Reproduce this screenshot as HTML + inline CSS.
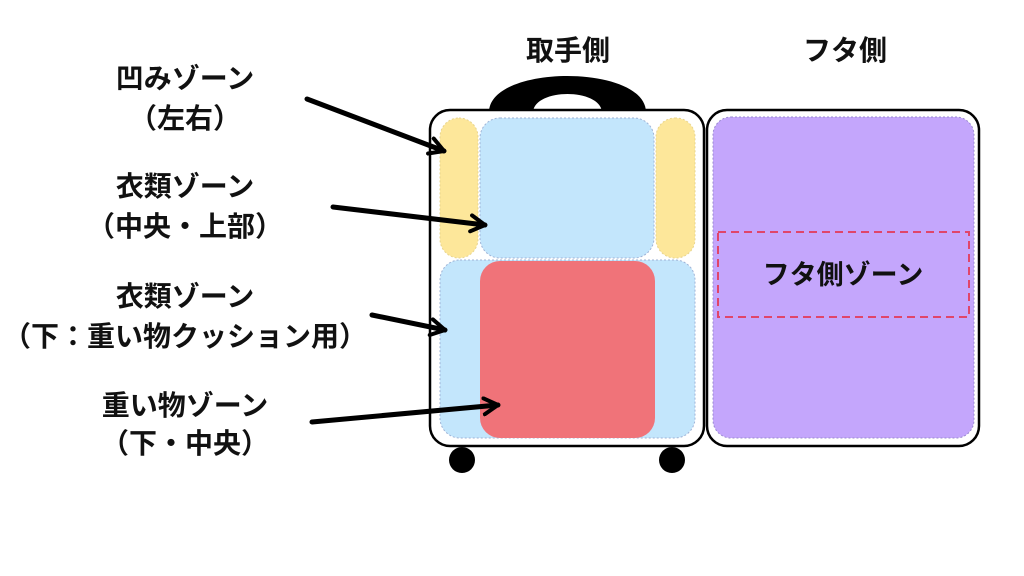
<!DOCTYPE html>
<html><head><meta charset="utf-8"><style>
body{margin:0;width:1024px;height:576px;background:#fff;overflow:hidden}
svg{display:block}
text{font-family:"Liberation Sans","Noto Sans CJK JP",sans-serif;font-weight:bold;font-size:28px;fill:#111;text-anchor:middle}
</style></head><body>
<svg width="1024" height="576" viewBox="0 0 1024 576">
<defs><marker id="a" viewBox="0 0 10 10" refX="8" refY="5" markerWidth="4" markerHeight="4" orient="auto" markerUnits="strokeWidth"><path d="M1,1 L8,5 L1,9" fill="none" stroke="#000" stroke-width="2" stroke-linecap="round" stroke-linejoin="round"/></marker></defs>
<path d="M489,112 C490,64 645,64 646,112 L602,112 C600,88 535,88 533,112 Z" fill="#000"/>
<rect x="430" y="110" width="274" height="336" rx="20" fill="#fff" stroke="#000" stroke-width="2.5"/>
<rect x="440" y="118" width="38" height="140" rx="19" fill="#fde79a" stroke="#e8d48c" stroke-width="1" stroke-dasharray="2 2"/>
<rect x="656" y="118" width="39" height="140" rx="19" fill="#fde79a" stroke="#e8d48c" stroke-width="1" stroke-dasharray="2 2"/>
<rect x="480" y="118" width="174" height="140" rx="20" fill="#c3e6fc" stroke="#9fb3d6" stroke-width="1" stroke-dasharray="2 2"/>
<rect x="440" y="260" width="255" height="178" rx="20" fill="#c3e6fc" stroke="#9fb3d6" stroke-width="1" stroke-dasharray="2 2"/>
<rect x="480" y="261" width="175" height="177" rx="20" fill="#f07379"/>
<circle cx="462" cy="460" r="13" fill="#000"/>
<circle cx="672" cy="460" r="13" fill="#000"/>
<rect x="707" y="110" width="272" height="336" rx="20" fill="#fff" stroke="#000" stroke-width="2.5"/>
<rect x="713" y="117" width="261" height="321" rx="18" fill="#c4a6fc" stroke="#9a8ad0" stroke-width="1" stroke-dasharray="2 2"/>
<rect x="718" y="232" width="251" height="85" fill="none" stroke="#e0456a" stroke-width="2" stroke-dasharray="8 5"/>
<text x="843" y="284" style="font-size:27px">フタ側ゾーン</text>
<text x="568" y="60">取手側</text>
<text x="845" y="60">フタ側</text>
<text x="185" y="88">凹みゾーン</text>
<text x="185" y="128">（左右）</text>
<text x="185" y="196">衣類ゾーン</text>
<text x="185" y="236">（中央・上部）</text>
<text x="185" y="306">衣類ゾーン</text>
<text x="185" y="346">（下：重い物クッション用）</text>
<text x="185" y="415">重い物ゾーン</text>
<text x="185" y="453">（下・中央）</text>
<g stroke="#000" stroke-width="5" stroke-linecap="round" marker-end="url(#a)">
<line x1="307" y1="99" x2="444" y2="151"/>
<line x1="333" y1="207" x2="485" y2="225"/>
<line x1="372" y1="315" x2="445" y2="330"/>
<line x1="312" y1="422" x2="498" y2="405"/>
</g>
</svg>
</body></html>
